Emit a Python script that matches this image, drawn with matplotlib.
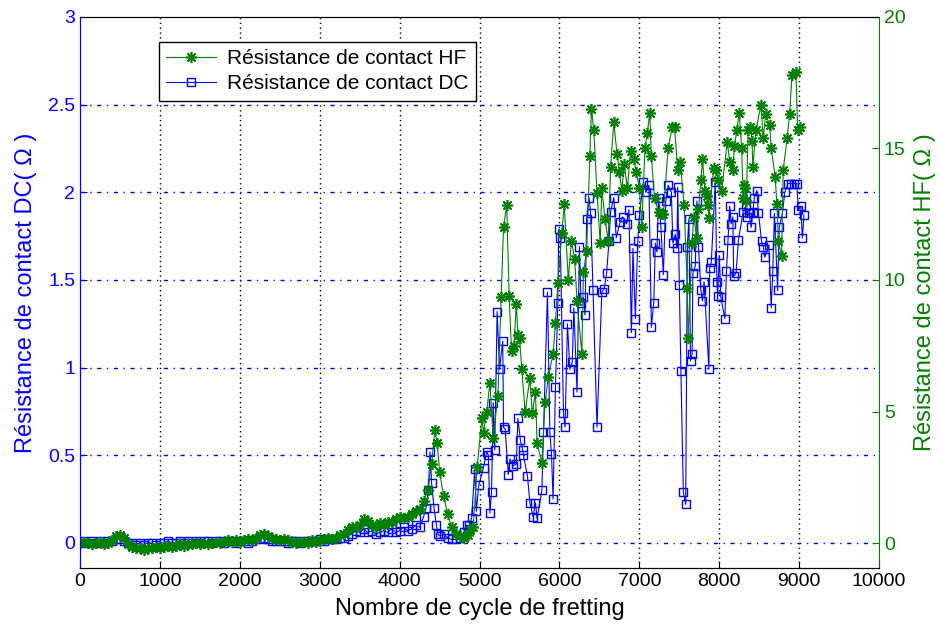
"""Contact resistance (DC and HF) versus number of fretting cycles."""

import matplotlib
matplotlib.use("Agg")
import numpy as np
from matplotlib import pyplot as plt

plt.rcParams['font.family'] = ['Liberation Sans', 'DejaVu Sans']

# HF contact resistance (Ohm)
hf_cycles = [
    0, 50, 100, 150, 200, 250, 300, 350, 400, 450,
    500, 550, 600, 650, 700, 750, 800, 850, 900, 950,
    1000, 1050, 1100, 1150, 1200, 1250, 1300, 1350, 1400, 1450,
    1500, 1550, 1600, 1650, 1700, 1750, 1800, 1850, 1900, 1950,
    2000, 2050, 2100, 2150, 2200, 2250, 2300, 2350, 2400, 2450,
    2500, 2550, 2600, 2650, 2700, 2750, 2800, 2850, 2900, 2950,
    3000, 3050, 3100, 3150, 3200, 3250, 3300, 3350, 3400, 3450,
    3500, 3550, 3600, 3650, 3700, 3750, 3800, 3850, 3900, 3950,
    4000, 4050, 4100, 4150, 4200, 4250, 4300, 4350, 4400, 4440,
    4470, 4500, 4550, 4600, 4650, 4700, 4750, 4800, 4850, 4880,
    4920, 4970, 5030, 5050, 5090, 5130, 5170, 5230, 5270, 5300,
    5340, 5370, 5400, 5430, 5460, 5480, 5500, 5530, 5570, 5630,
    5660, 5700, 5720, 5780, 5820, 5860, 5920, 5950, 5980, 6030,
    6060, 6110, 6150, 6190, 6220, 6280, 6300, 6340, 6380, 6400,
    6430, 6470, 6510, 6530, 6570, 6610, 6640, 6680, 6720, 6750,
    6780, 6810, 6850, 6890, 6930, 6960, 7000, 7030, 7070, 7100,
    7130, 7150, 7190, 7240, 7270, 7300, 7360, 7410, 7440, 7480,
    7510, 7560, 7600, 7610, 7660, 7680, 7720, 7740, 7770, 7790,
    7820, 7850, 7860, 7870, 7930, 7960, 7990, 8030, 8100, 8130,
    8170, 8190, 8220, 8250, 8280, 8300, 8310, 8320, 8340, 8360,
    8390, 8410, 8420, 8460, 8520, 8550, 8580, 8630, 8650, 8700,
    8720, 8740, 8780, 8800, 8850, 8880, 8910, 8960, 8980, 9010,
]
hf_ohm = [
    0.00, 0.05, 0.00, -0.05, 0.00, 0.05, -0.05, 0.00, 0.10, 0.25,
    0.30, 0.20, -0.05, -0.15, -0.20, -0.20, -0.25, -0.20, -0.20, -0.15,
    -0.20, -0.15, -0.10, -0.15, -0.10, -0.05, -0.10, -0.05, -0.05, 0.00,
    -0.05, 0.00, -0.05, 0.00, 0.05, 0.00, 0.05, 0.10, 0.05, 0.10,
    0.05, 0.10, 0.15, 0.10, 0.20, 0.30, 0.35, 0.25, 0.20, 0.15,
    0.10, 0.15, 0.10, 0.05, 0.00, 0.05, 0.05, 0.00, 0.10, 0.05,
    0.10, 0.15, 0.20, 0.15, 0.20, 0.30, 0.35, 0.50, 0.60, 0.60,
    0.70, 0.90, 0.85, 0.70, 0.60, 0.75, 0.70, 0.80, 0.80, 0.90,
    1.00, 0.95, 1.00, 1.10, 1.20, 1.30, 1.60, 2.00, 3.00, 4.30,
    3.80, 2.70, 1.80, 1.10, 0.60, 0.35, 0.25, 0.20, 0.30, 0.50,
    0.60, 2.90, 4.75, 4.20, 5.00, 6.10, 4.00, 5.60, 9.35, 12.00,
    12.85, 9.40, 7.30, 7.50, 9.10, 7.90, 7.80, 6.60, 4.98, 6.27,
    4.94, 5.74, 3.80, 3.04, 5.36, 6.30, 7.20, 8.35, 9.90, 11.80,
    12.90, 10.00, 11.50, 10.80, 9.20, 7.20, 10.30, 11.10, 14.70, 16.50,
    15.70, 13.30, 11.40, 13.50, 12.30, 11.50, 14.30, 16.00, 14.80, 14.10,
    13.40, 14.40, 13.50, 14.90, 14.60, 14.10, 13.50, 12.00, 15.00, 15.60,
    16.35, 14.70, 13.10, 12.60, 12.50, 12.50, 15.00, 15.80, 15.80, 14.20,
    14.50, 12.85, 9.70, 7.80, 11.40, 12.40, 11.60, 12.70, 13.80, 14.60,
    13.40, 13.20, 12.85, 12.35, 14.25, 14.20, 13.80, 13.40, 15.25, 14.50,
    14.20, 15.10, 15.70, 16.35, 15.00, 13.10, 13.60, 13.50, 13.00, 15.70,
    15.80, 15.30, 14.30, 15.70, 16.65, 15.40, 16.30, 15.90, 15.00, 13.90,
    12.90, 11.50, 10.90, 14.20, 15.40, 16.30, 17.80, 17.90, 15.70, 15.80,
]

# DC contact resistance (Ohm)
dc_cycles = [
    0, 50, 100, 150, 200, 250, 300, 350, 400, 450,
    500, 550, 600, 650, 700, 750, 800, 850, 900, 950,
    1000, 1050, 1100, 1150, 1200, 1250, 1300, 1350, 1400, 1450,
    1500, 1550, 1600, 1650, 1700, 1750, 1800, 1850, 1900, 1950,
    2000, 2050, 2100, 2150, 2200, 2250, 2300, 2350, 2400, 2450,
    2500, 2550, 2600, 2650, 2700, 2750, 2800, 2850, 2900, 2950,
    3000, 3050, 3100, 3150, 3200, 3250, 3300, 3350, 3400, 3450,
    3500, 3550, 3600, 3650, 3700, 3750, 3800, 3850, 3900, 3950,
    4000, 4050, 4100, 4150, 4200, 4250, 4300, 4330, 4360, 4380,
    4400, 4430, 4460, 4480, 4500, 4550, 4600, 4650, 4700, 4750,
    4800, 4840, 4870, 4900, 4940, 4960, 4990, 5050, 5090, 5110,
    5130, 5150, 5170, 5190, 5220, 5250, 5290, 5300, 5320, 5360,
    5380, 5420, 5460, 5480, 5510, 5540, 5550, 5600, 5630, 5670,
    5700, 5720, 5780, 5800, 5850, 5880, 5900, 5920, 5950, 5980,
    5990, 6010, 6050, 6070, 6100, 6130, 6160, 6180, 6220, 6250,
    6270, 6300, 6320, 6340, 6370, 6390, 6420, 6470, 6530, 6560,
    6590, 6620, 6640, 6680, 6710, 6760, 6790, 6840, 6870, 6900,
    6920, 6950, 6980, 7000, 7050, 7080, 7120, 7150, 7180, 7200,
    7220, 7240, 7270, 7300, 7330, 7360, 7400, 7420, 7450, 7470,
    7480, 7500, 7520, 7550, 7580, 7600, 7620, 7640, 7660, 7670,
    7700, 7720, 7740, 7770, 7790, 7810, 7870, 7880, 7900, 7950,
    7970, 7980, 8000, 8020, 8070, 8090, 8110, 8130, 8150, 8170,
    8180, 8210, 8240, 8300, 8330, 8350, 8370, 8400, 8420, 8440,
    8470, 8490, 8530, 8550, 8570, 8620, 8650, 8670, 8690, 8730,
    8750, 8790, 8820, 8860, 8900, 8940, 8970, 8990, 9020, 9040,
    9060,
]
dc_ohm = [
    0.00, 0.01, 0.00, 0.01, 0.00, 0.01, 0.00, 0.01, 0.01, 0.02,
    0.02, 0.01, 0.00, 0.00, -0.01, 0.00, -0.01, 0.00, 0.00, -0.01,
    0.00, 0.00, 0.01, 0.00, 0.00, 0.01, 0.00, 0.01, 0.00, 0.01,
    0.00, 0.01, 0.01, 0.00, 0.01, 0.01, 0.00, 0.01, 0.01, 0.00,
    0.01, 0.01, 0.00, 0.01, 0.02, 0.02, 0.03, 0.02, 0.01, 0.01,
    0.01, 0.01, 0.00, 0.01, 0.01, 0.00, 0.01, 0.01, 0.01, 0.01,
    0.02, 0.01, 0.02, 0.02, 0.02, 0.03, 0.03, 0.04, 0.05, 0.07,
    0.06, 0.08, 0.06, 0.07, 0.05, 0.06, 0.07, 0.06, 0.08, 0.06,
    0.07, 0.09, 0.07, 0.08, 0.10, 0.09, 0.15, 0.20, 0.30, 0.52,
    0.34, 0.20, 0.10, 0.05, 0.04, 0.05, 0.03, 0.02, 0.02, 0.03,
    0.06, 0.10, 0.10, 0.14, 0.42, 0.18, 0.33, 0.43, 0.52, 0.50,
    0.17, 0.29, 0.80, 0.53, 1.32, 0.99, 1.15, 0.66, 0.65, 0.39,
    0.48, 0.44, 0.45, 0.71, 0.59, 0.53, 0.50, 0.38, 0.23, 0.15,
    0.23, 0.14, 0.30, 0.63, 1.43, 0.63, 0.51, 0.25, 0.89, 1.37,
    1.79, 1.74, 0.74, 0.66, 1.25, 0.99, 1.03, 1.34, 0.86, 1.69,
    1.37, 1.40, 1.30, 1.85, 1.97, 1.88, 1.44, 0.66, 1.43, 1.45,
    1.54, 1.72, 1.89, 1.97, 1.74, 1.83, 1.86, 1.82, 1.90, 1.20,
    1.68, 1.28, 1.72, 1.87, 2.06, 2.00, 2.04, 1.23, 1.37, 1.71,
    1.66, 1.97, 1.80, 1.53, 1.95, 2.04, 2.00, 1.71, 1.76, 1.68,
    2.03, 1.47, 0.98, 0.29, 0.22, 1.69, 1.85, 1.04, 1.08, 1.54,
    1.58, 1.95, 1.69, 1.44, 1.38, 1.49, 0.99, 1.57, 1.60, 2.06,
    1.49, 1.41, 1.64, 1.40, 1.28, 1.55, 1.73, 1.92, 1.82, 1.86,
    1.52, 1.54, 1.73, 1.89, 1.92, 1.86, 1.88, 1.80, 1.89, 1.97,
    2.01, 1.88, 1.72, 1.69, 1.63, 1.70, 1.34, 1.55, 1.88, 1.44,
    1.80, 1.88, 2.00, 2.05, 2.05, 2.05, 2.05, 1.90, 1.92, 1.74,
    1.87,
]

x_ticks = [0, 1000, 2000, 3000, 4000, 5000, 6000, 7000, 8000, 9000, 10000]
dc_ticks = [0, 0.5, 1, 1.5, 2, 2.5, 3]
dc_tick_labels = ['0', '0.5', '1', '1.5', '2', '2.5', '3']
hf_ticks = [0, 5, 10, 15, 20]

BLUE = '#0000ff'
GREEN = '#008000'

fig = plt.figure(figsize=(9.39, 6.28), dpi=100)
ax = fig.add_axes([0.0852, 0.0955, 0.851, 0.8775])
ax2 = ax.twinx()

ln_dc, = ax.plot(dc_cycles, dc_ohm, color=BLUE, lw=0.8, marker='s', ms=6,
                 mfc='none', mec=BLUE, mew=1.0)
# matlab style asterisk marker
ln_hf, = ax2.plot(hf_cycles, hf_ohm, color=GREEN, lw=0.8, marker=(8, 2, 0), ms=8,
                  mec=GREEN, mew=1.2)

ax.set_xlim(0, 10000)
ax.set_ylim(-0.143, 3)
ax2.set_ylim(-0.95, 20)

ax.set_xticks(x_ticks)
ax.set_xticklabels([str(t) for t in x_ticks])
ax.set_yticks(dc_ticks)
ax.set_yticklabels(dc_tick_labels)
ax2.set_yticks(hf_ticks)

# matlab-like grid: black dotted verticals, blue dash-dot horizontals
for xt in x_ticks[1:-1]:
    ax.axvline(xt, color='black', ls=(0, (1, 2.5)), lw=1.0, zorder=0)
for yt in dc_ticks[:-1]:
    ax.axhline(yt, color=BLUE, ls=(0, (3, 4, 1, 4)), lw=1.0, zorder=0)

ax.tick_params(axis='x', direction='in', labelsize=14, colors='black', length=5)
ax.tick_params(axis='y', direction='in', labelsize=14, colors=BLUE, length=5)
ax2.tick_params(axis='y', direction='in', labelsize=14, colors=GREEN, length=5)

ax.spines['left'].set_color(BLUE)
ax2.spines['left'].set_color(BLUE)
ax2.spines['right'].set_color(GREEN)
ax.spines['right'].set_visible(False)

ax.set_xlabel('Nombre de cycle de fretting', fontsize=17, labelpad=6)
ax.set_ylabel('Résistance de contact DC( Ω )', fontsize=17, color=BLUE, labelpad=8)
ax2.set_ylabel('Résistance de contact HF( Ω )', fontsize=17, color=GREEN, labelpad=6)

leg = ax.legend([ln_hf, ln_dc], ['Résistance de contact HF', 'Résistance de contact DC'],
                loc='upper left', bbox_to_anchor=(0.099, 0.955), fontsize=15,
                fancybox=False, framealpha=1, edgecolor='black',
                handlelength=2.4, handletextpad=0.5, borderpad=0.35,
                labelspacing=0.3, borderaxespad=0)
leg.get_frame().set_linewidth(1.0)

fig.savefig('out.png', dpi=100)
